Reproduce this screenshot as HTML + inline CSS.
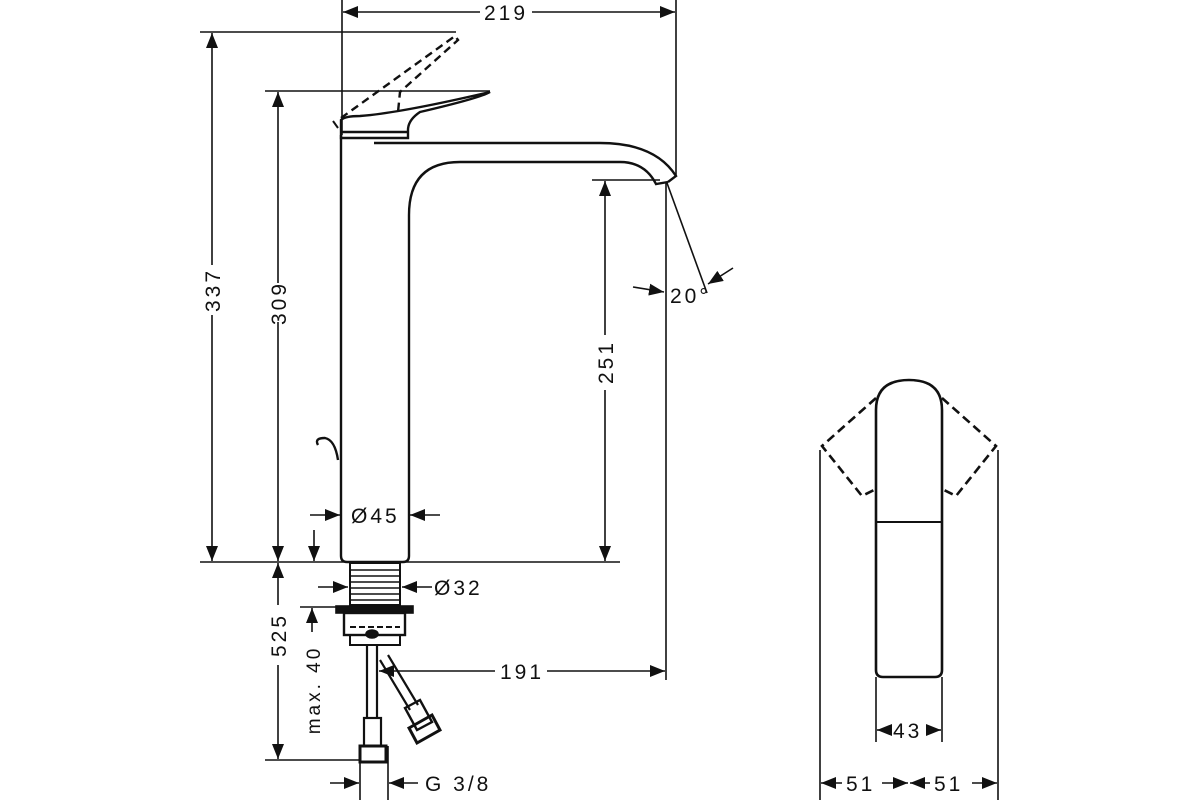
<!DOCTYPE html>
<html><head><meta charset="utf-8"><style>
html,body{margin:0;padding:0;background:#fff;}
svg{display:block}
text{font-family:"Liberation Sans",sans-serif;font-size:21px;fill:#111;letter-spacing:3px}
</style></head><body>
<svg width="1200" height="800" viewBox="0 0 1200 800" xmlns="http://www.w3.org/2000/svg">
<defs>
<marker id="a" markerUnits="userSpaceOnUse" markerWidth="16" markerHeight="12" refX="15" refY="6" orient="auto-start-reverse"><path d="M0,0 L15,6 L0,12 Z" fill="#111"/></marker>
</defs>
<g stroke="#111" stroke-width="1.6" fill="none">
<line x1="342" y1="0" x2="342" y2="135"/>
<line x1="676" y1="0" x2="676" y2="176"/>
<line x1="343" y1="12" x2="480" y2="12" marker-start="url(#a)"/>
<line x1="532" y1="12" x2="675" y2="12" marker-end="url(#a)"/>
<line x1="200" y1="32" x2="456" y2="32"/>
<line x1="212" y1="33" x2="212" y2="265" marker-start="url(#a)"/>
<line x1="212" y1="315" x2="212" y2="561" marker-end="url(#a)"/>
<line x1="265" y1="91" x2="490" y2="91"/>
<line x1="278" y1="92" x2="278" y2="283" marker-start="url(#a)"/>
<line x1="278" y1="322" x2="278" y2="561" marker-end="url(#a)"/>
<line x1="200" y1="562" x2="620" y2="562"/>
<line x1="592" y1="180" x2="660" y2="180"/>
<line x1="605" y1="181" x2="605" y2="335" marker-start="url(#a)"/>
<line x1="605" y1="390" x2="605" y2="561" marker-end="url(#a)"/>
<line x1="666" y1="183" x2="666" y2="680"/>
<line x1="667" y1="183" x2="707" y2="293"/>
<line x1="633" y1="287" x2="664" y2="292" marker-end="url(#a)"/>
<line x1="733" y1="268" x2="708" y2="284" marker-end="url(#a)"/>
<path d="M341,135 L341,556 Q341,562 347,562 L403,562 Q409,562 409,556 L409,215 Q409,162 460,162 L620,162 Q645,162 656,184 L668,182" stroke-width="2.4"/>
<path d="M374,143 L600,143 Q655,143 676,176 L668,182" stroke-width="2.4"/>
<path d="M341,120 Q345,116 360,116 Q400,113 490,92 Q480,98 420,112 Q408,120 408,130 L408,138 L341,138 Z" stroke-width="2.4"/>
<path d="M341,132 L408,132" stroke-width="2.4"/>
<path d="M341,118 L455,36 L458,40 L400,92 L398,112" stroke-dasharray="8,5" stroke-width="2.4"/>
<path d="M333,121 L338,128" stroke-width="2"/>
<path d="M318,445 Q314,438 325,438 Q335,440 338,460" stroke-width="2.4"/>
<line x1="310" y1="515" x2="340" y2="515" marker-end="url(#a)"/>
<line x1="440" y1="515" x2="410" y2="515" marker-end="url(#a)"/>
<line x1="314" y1="530" x2="314" y2="561" marker-end="url(#a)"/>
<rect x="350" y="563" width="50" height="42" stroke-width="2"/>
<g stroke-width="1.5"><line x1="350" y1="570" x2="400" y2="570"/><line x1="350" y1="576" x2="400" y2="576"/><line x1="350" y1="582" x2="400" y2="582"/><line x1="350" y1="588" x2="400" y2="588"/><line x1="350" y1="594" x2="400" y2="594"/><line x1="350" y1="600" x2="400" y2="600"/></g>
<line x1="318" y1="587" x2="348" y2="587" marker-end="url(#a)"/>
<line x1="432" y1="587" x2="402" y2="587" marker-end="url(#a)"/>
<rect x="336" y="606" width="77" height="7" fill="#111"/>
<rect x="344" y="613" width="61" height="22" stroke-width="2.4"/>
<path d="M350,627 L400,627" stroke-dasharray="6,3" stroke-width="2"/>
<rect x="350" y="635" width="50" height="10" stroke-width="2"/>
<ellipse cx="372" cy="634" rx="6" ry="4" fill="#111"/>
<path d="M367,645 L367,718 M377,645 L377,718" stroke-width="2.2"/>
<path d="M380,660 L410,710 M388,655 L418,705" stroke-width="2.2"/>
<rect x="364" y="718" width="17" height="28" stroke-width="2.2"/>
<rect x="360" y="746" width="26" height="16" stroke-width="3"/>
<path d="M405,708 L420,700 L432,722 L417,730 Z" stroke-width="2.4"/>
<path d="M409,728 L432,715 L440,730 L417,743 Z" stroke-width="3"/>
<line x1="278" y1="563" x2="278" y2="605" marker-start="url(#a)"/>
<line x1="278" y1="665" x2="278" y2="759" marker-end="url(#a)"/>
<line x1="265" y1="760" x2="360" y2="760"/>
<line x1="300" y1="607" x2="336" y2="607"/>
<line x1="312" y1="608" x2="312" y2="632" marker-start="url(#a)"/>
<line x1="379" y1="671" x2="495" y2="671" marker-start="url(#a)"/>
<line x1="547" y1="671" x2="665" y2="671" marker-end="url(#a)"/>
<line x1="360" y1="746" x2="360" y2="800"/>
<line x1="388" y1="746" x2="388" y2="800"/>
<line x1="330" y1="783" x2="359" y2="783" marker-end="url(#a)"/>
<line x1="418" y1="783" x2="389" y2="783" marker-end="url(#a)"/>
<path d="M876,410 Q876,380 909,380 Q942,380 942,410 L942,670 Q942,677 935,677 L883,677 Q876,677 876,670 Z" stroke-width="2.6"/>
<path d="M876,522 L942,522" stroke-width="2"/>
<path d="M876,398 L822,446 L862,496 L874,490" stroke-dasharray="9,5" stroke-width="2.6"/>
<path d="M942,398 L996,446 L956,496 L944,490" stroke-dasharray="9,5" stroke-width="2.6"/>
<line x1="820" y1="450" x2="820" y2="800"/>
<line x1="998" y1="450" x2="998" y2="800"/>
<line x1="876" y1="677" x2="876" y2="742"/>
<line x1="942" y1="677" x2="942" y2="742"/>
<line x1="877" y1="730" x2="890" y2="730" marker-start="url(#a)"/>
<line x1="928" y1="730" x2="941" y2="730" marker-end="url(#a)"/>
<line x1="821" y1="783" x2="842" y2="783" marker-start="url(#a)"/>
<line x1="882" y1="783" x2="908" y2="783" marker-end="url(#a)"/>
<line x1="910" y1="783" x2="930" y2="783" marker-start="url(#a)"/>
<line x1="972" y1="783" x2="997" y2="783" marker-end="url(#a)"/>
</g>
<text x="484" y="20">219</text>
<text transform="translate(220,290) rotate(-90)" text-anchor="middle">337</text>
<text transform="translate(286,303) rotate(-90)" text-anchor="middle">309</text>
<text transform="translate(613,362) rotate(-90)" text-anchor="middle">251</text>
<text transform="translate(286,635) rotate(-90)" text-anchor="middle">525</text>
<text transform="translate(320,690) rotate(-90)" text-anchor="middle" style="font-size:19px">max. 40</text>
<text x="670" y="303">20°</text>
<text x="351" y="523">Ø45</text>
<text x="434" y="595">Ø32</text>
<text x="500" y="679">191</text>
<text x="425" y="791">G 3/8</text>
<text x="893" y="738">43</text>
<text x="846" y="791">51</text>
<text x="934" y="791">51</text>
</svg>
</body></html>
